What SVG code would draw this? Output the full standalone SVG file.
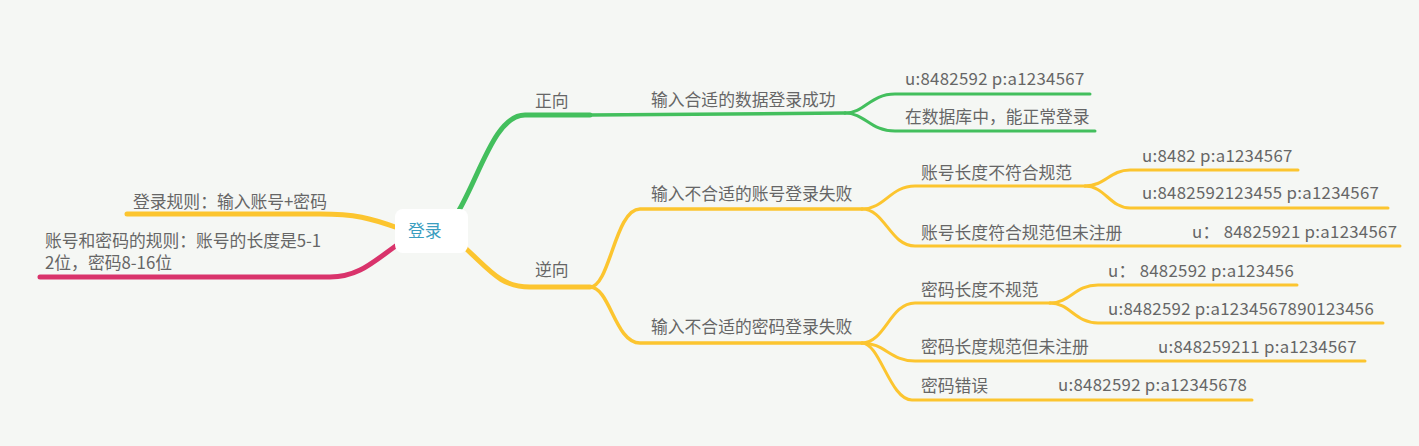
<svg xmlns="http://www.w3.org/2000/svg" width="1419" height="446" viewBox="0 0 1419 446">
<style>
.t{font-family:"Noto Sans CJK SC","Microsoft YaHei",sans-serif;font-size:16.8px;fill:#666}
.l{letter-spacing:0.3px}
.c{fill:none;stroke-linecap:round}
.g{stroke:#43bf5d}
.y{stroke:#fcc52f}
.r{stroke:#d9336b}
</style>
<rect width="1419" height="446" fill="#f5f7f4"/>
<g id="connectors">
<path class="c g" stroke-width="5" d="M458,212 C480,175 495,115 525,115 L590,115"/>
<path class="c g" stroke-width="3.5" d="M590,115 L845,113"/>
<path class="c g" stroke-width="3" d="M845,113 C865,113 870,94 895,94 L1090,94"/>
<path class="c g" stroke-width="3" d="M845,113 C865,113 870,131 895,131 L1095,131"/>
<path class="c y" stroke-width="5" d="M462,245 C490,270 500,287 530,287 L590,287"/>
<path class="c y" stroke-width="3.5" d="M590,287 C610,287 615,209 640,209 L862,209"/>
<path class="c y" stroke-width="3.5" d="M590,287 C610,287 615,343 640,343 L862,343"/>
<path class="c y" stroke-width="3" d="M862,209 C885,209 890,186 915,186 L1085,186"/>
<path class="c y" stroke-width="3" d="M862,209 C885,209 890,246 915,246 L1400,246"/>
<path class="c y" stroke-width="3" d="M1085,186 C1105,186 1110,170 1130,170 L1298,170"/>
<path class="c y" stroke-width="3" d="M1085,186 C1105,186 1110,208 1130,208 L1388,208"/>
<path class="c y" stroke-width="3" d="M862,343 C885,343 890,303 915,303 L1050,303"/>
<path class="c y" stroke-width="3" d="M862,343 C885,343 890,361 915,361 L1365,361"/>
<path class="c y" stroke-width="3" d="M862,343 C880,343 890,400 912,400 L1252,400"/>
<path class="c y" stroke-width="3" d="M1050,303 C1070,303 1075,285 1098,285 L1297,285"/>
<path class="c y" stroke-width="3" d="M1050,303 C1070,303 1075,323 1098,323 L1383,323"/>
<path class="c y" stroke-width="5" d="M398,228 C370,218 355,214 320,214 L127,214"/>
<path class="c r" stroke-width="5" d="M400,243 C375,260 360,277 330,277 L40,277"/>
</g>
<g id="root">
<rect x="395" y="209" width="73" height="44" rx="8" fill="#fff"/>
<text x="408" y="237" class="t" style="fill:#3b9ec0">登录</text>
</g>
<g id="n-zx"><text x="535" y="107" class="t">正向</text></g>
<g id="n-zx1"><text x="651" y="106" class="t">输入合适的数据登录成功</text></g>
<g id="n-zx1a"><text x="905" y="85" class="t l">u:8482592 p:a1234567</text></g>
<g id="n-zx1b"><text x="905" y="123" class="t">在数据库中，能正常登录</text></g>
<g id="n-nx"><text x="535" y="276" class="t">逆向</text></g>
<g id="n-nx1"><text x="651" y="200" class="t">输入不合适的账号登录失败</text></g>
<g id="n-nx1a"><text x="921" y="179" class="t">账号长度不符合规范</text></g>
<g id="n-nx1a1"><text x="1142" y="162" class="t l">u:8482 p:a1234567</text></g>
<g id="n-nx1a2"><text x="1142" y="199" class="t l">u:8482592123455 p:a1234567</text></g>
<g id="n-nx1b"><text x="921" y="239" class="t">账号长度符合规范但未注册</text></g>
<g id="n-nx1b1"><text x="1192" y="238" class="t l">u： 84825921 p:a1234567</text></g>
<g id="n-nx2"><text x="651" y="333" class="t">输入不合适的密码登录失败</text></g>
<g id="n-nx2a"><text x="921" y="296" class="t">密码长度不规范</text></g>
<g id="n-nx2a1"><text x="1108" y="277" class="t l">u： 8482592 p:a123456</text></g>
<g id="n-nx2a2"><text x="1108" y="315" class="t l">u:8482592 p:a1234567890123456</text></g>
<g id="n-nx2b"><text x="921" y="353" class="t">密码长度规范但未注册</text></g>
<g id="n-nx2b1"><text x="1158" y="353" class="t l">u:848259211 p:a1234567</text></g>
<g id="n-nx2c"><text x="921" y="392" class="t">密码错误</text></g>
<g id="n-nx2c1"><text x="1058" y="391" class="t l">u:8482592 p:a12345678</text></g>
<g id="n-rule"><text x="133" y="208" class="t">登录规则：输入账号+密码</text></g>
<g id="n-rule2"><text x="45" y="247" class="t">账号和密码的规则：账号的长度是5-1</text><text x="45" y="269" class="t">2位，密码8-16位</text></g>
</svg>
